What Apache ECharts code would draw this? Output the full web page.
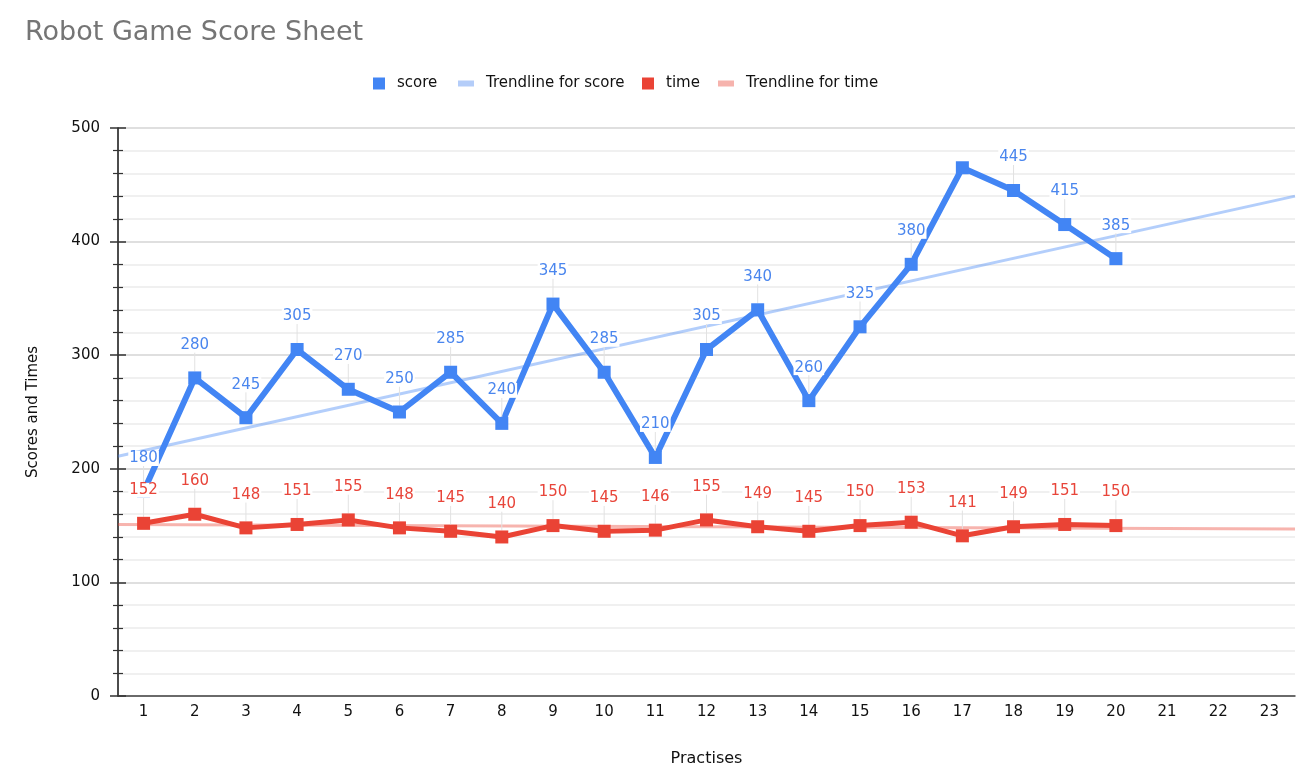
<!DOCTYPE html>
<html>
<head>
<meta charset="utf-8">
<title>Robot Game Score Sheet</title>
<script src="https://cdn.jsdelivr.net/npm/echarts@6/dist/echarts.min.js"></script>
<style>
    html, body { margin: 0; padding: 0; background: #fff; }
    #main { width: 1306px; height: 783px; }
</style>
</head>
<body>
<div id="main"></div>
<script>
var practises = ['1','2','3','4','5','6','7','8','9','10','11','12','13','14','15','16','17','18','19','20','21','22','23'];
var scores = [180, 280, 245, 305, 270, 250, 285, 240, 345, 285, 210, 305, 340, 260, 325, 380, 465, 445, 415, 385];
var times = [152, 160, 148, 151, 155, 148, 145, 140, 150, 145, 146, 155, 149, 145, 150, 153, 141, 149, 151, 150];
// trendline ends (left edge / right edge of the plot)
var trendX = [0.5, 23.5];
var scoreTrend = [211, 440];
var timeTrend = [151, 147];
// the reference shows no label on this point
var hiddenScoreLabel = 16;

var FONT = 'DejaVu Sans';

function pairUp (xs, ys) {
    var out = [];
    for (var i = 0; i < xs.length; i++) {
        out.push([xs[i], ys[i]]);
    }
    return out;
}

function pointLabel (color) {
    return {
        show: true,
        position: 'top',
        distance: 5,
        color: color,
        fontFamily: FONT,
        fontSize: 15,
        backgroundColor: '#fff',
        padding: [0, 1]
    };
}

function legendAt (left, name, w, h) {
    return {
        left: left,
        top: 76,
        padding: 0,
        itemWidth: w,
        itemHeight: h,
        icon: 'rect',
        data: [name],
        textStyle: { fontFamily: FONT, fontSize: 15, color: '#111', padding: [0, 0, 0, 7] }
    };
}

function drawChart (target) {
    var chart = echarts.init(document.getElementById(target));
    var scoreData = scores.map(function (v, i) {
        if (i === hiddenScoreLabel) {
            return { value: v, label: { show: false } };
        }
        return v;
    });
    var yBase = {
        type: 'value',
        position: 'left',
        min: 0,
        max: 500,
        interval: 100
    };
    var option = {
        animation: false,
        title: {
            text: 'Robot Game Score Sheet',
            left: 20,
            top: 14,
            textStyle: { fontFamily: FONT, fontSize: 27, fontWeight: 'normal', color: '#757575' }
        },
        legend: [
            legendAt(373, 'score', 12, 12),
            legendAt(458, 'Trendline for score', 16, 6),
            legendAt(642, 'time', 12, 12),
            legendAt(718, 'Trendline for time', 16, 6)
        ],
        grid: { left: 118, right: 11, top: 128, bottom: 87 },
        xAxis: [
            {
                type: 'category',
                data: practises,
                boundaryGap: true,
                name: 'Practises',
                nameLocation: 'middle',
                nameGap: 55,
                nameTextStyle: { fontFamily: FONT, fontSize: 16, color: '#111' },
                axisLine: { lineStyle: { color: '#444', width: 1.5 } },
                axisTick: { show: false },
                axisLabel: { margin: 9, fontFamily: FONT, fontSize: 15, color: '#111' }
            },
            {
                type: 'value',
                min: 0.5,
                max: 23.5,
                show: false
            }
        ],
        yAxis: [
            Object.assign({}, yBase, {
                name: 'Scores and Times',
                nameLocation: 'middle',
                nameGap: 77,
                nameTextStyle: { fontFamily: FONT, fontSize: 15, color: '#111' },
                axisLine: { show: true, lineStyle: { color: '#111', width: 1.5 } },
                axisTick: { show: true, length: 8, lineStyle: { color: '#333', width: 1.5 } },
                minorTick: { show: true, splitNumber: 5, length: 5, lineStyle: { color: '#333', width: 1.2 } },
                axisLabel: { margin: 18, fontFamily: FONT, fontSize: 15, color: '#111' },
                splitLine: { lineStyle: { color: '#d4d4d4', width: 1.5 } },
                minorSplitLine: { show: true, lineStyle: { color: '#ececec', width: 1.5 } }
            }),
            Object.assign({}, yBase, {
                axisLine: { show: false },
                axisTick: { show: true, inside: true, length: 8, lineStyle: { color: '#333', width: 1.5 } },
                minorTick: { show: true, splitNumber: 5, length: 5, lineStyle: { color: '#333', width: 1.2 } },
                axisLabel: { show: false },
                splitLine: { show: false }
            })
        ],
        series: [
            {
                name: 'Trendline for score',
                type: 'line',
                xAxisIndex: 1,
                data: pairUp(trendX, scoreTrend),
                symbol: 'none',
                silent: true,
                z: 1,
                itemStyle: { color: '#b4cdf9' },
                lineStyle: { color: '#4285f4', opacity: 0.4, width: 3 }
            },
            {
                name: 'score',
                type: 'line',
                data: scoreData,
                symbol: 'rect',
                symbolSize: 13,
                z: 2,
                itemStyle: { color: '#4285f4' },
                lineStyle: { color: '#4285f4', width: 6 },
                label: pointLabel('#4a86ee'),
                labelLayout: { dy: -14 },
                labelLine: { show: true, lineStyle: { color: '#e2e2e2', width: 1 } }
            },
            {
                name: 'Trendline for time',
                type: 'line',
                xAxisIndex: 1,
                data: pairUp(trendX, timeTrend),
                symbol: 'none',
                silent: true,
                z: 3,
                itemStyle: { color: '#f6b3ad' },
                lineStyle: { color: '#ea4335', opacity: 0.4, width: 3 }
            },
            {
                name: 'time',
                type: 'line',
                data: times,
                symbol: 'rect',
                symbolSize: 13,
                z: 4,
                itemStyle: { color: '#ea4335' },
                lineStyle: { color: '#ea4335', width: 5 },
                label: pointLabel('#e8453a'),
                labelLayout: { dy: -14 },
                labelLine: { show: true, lineStyle: { color: '#e2e2e2', width: 1 } }
            }
        ]
    };
    chart.setOption(option);
}

drawChart('main');
</script>
</body>
</html>
